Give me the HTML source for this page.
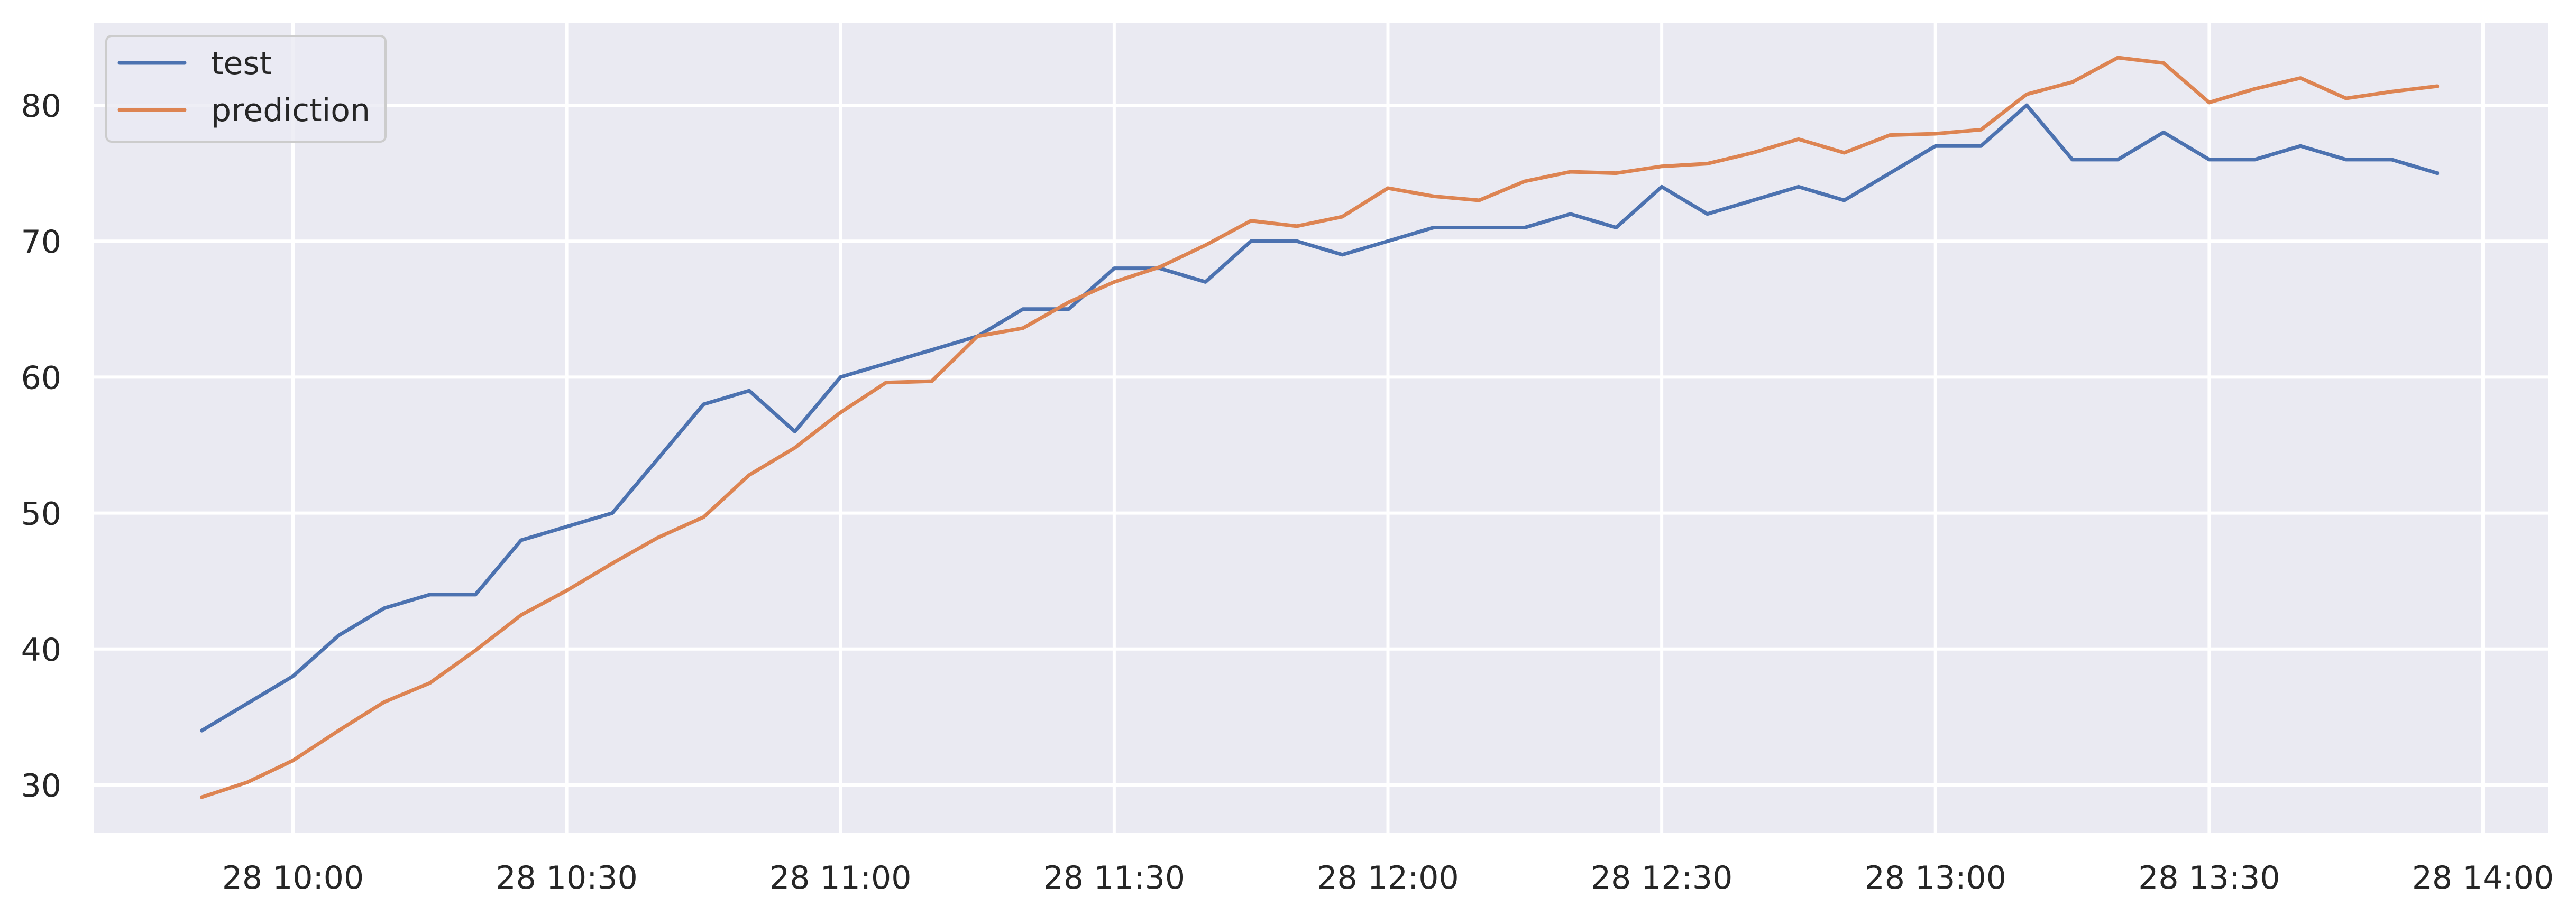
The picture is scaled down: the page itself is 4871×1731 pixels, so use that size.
<!DOCTYPE html>
<html><head><meta charset="utf-8"><style>
html,body{margin:0;padding:0;background:#fff;}
svg{display:block;font-family:"DejaVu Sans","Liberation Sans",sans-serif;}
</style></head><body>
<svg id="chart" width="4871" height="1731" viewBox="0 0 4871 1731">
<rect x="177" y="43" width="4641" height="1532" fill="#eaeaf2"/>
<g id="grid"></g><g id="series"></g><g id="labels"></g>
<g>
<rect x="201" y="68" width="528" height="200" rx="10" fill="#eaeaf2" fill-opacity="0.8" stroke="#cccccc" stroke-width="4"/>
<line x1="226" y1="119" x2="349" y2="119" stroke="#4c72b0" stroke-width="7" stroke-linecap="round"/>
<text x="399" y="140" font-size="60" fill="#262626">test</text>
<line x1="226" y1="208" x2="349" y2="208" stroke="#dd8452" stroke-width="7" stroke-linecap="round"/>
<text x="399" y="229" font-size="60" fill="#262626">prediction</text>
</g>
</svg>
<script>
const times = [];
for (let i = 0; i < 50; i++) times.push(-10 + 5 * i); // minutes from 10:00
const testValues = [34,36,38,41,43,44,44,48,49,50,54,58,59,56,60,61,62,63,65,65,68,68,67,70,70,69,70,71,71,71,72,71,74,72,73,74,73,75,77,77,80,76,76,78,76,76,77,76,76,75];
const predValues = [29.1,30.2,31.8,34.0,36.1,37.5,39.9,42.5,44.3,46.3,48.2,49.7,52.8,54.8,57.4,59.6,59.7,63.0,63.6,65.5,67.0,68.1,69.7,71.5,71.1,71.8,73.9,73.3,73.0,74.4,75.1,75.0,75.5,75.7,76.5,77.5,76.5,77.8,77.9,78.2,80.8,81.7,83.5,83.1,80.2,81.2,82.0,80.5,81.0,81.4];
const xTickMinutes = [0,30,60,90,120,150,180,210,240];
const xTickLabels = ["28 10:00","28 10:30","28 11:00","28 11:30","28 12:00","28 12:30","28 13:00","28 13:30","28 14:00"];
const yTicks = [30,40,50,60,70,80];

const NS = "http://www.w3.org/2000/svg";
function xs(m){ return 554 + (m/240)*(4695-554); }
function ys(v){ return 1485 - (v-30)*(1485-199)/50; }
function mk(tag, attrs, parent){ const e=document.createElementNS(NS,tag); for(const k in attrs) e.setAttribute(k,attrs[k]); parent.appendChild(e); return e; }
const grid=document.getElementById('grid'), series=document.getElementById('series'), labels=document.getElementById('labels');
xTickMinutes.forEach((m,i)=>{
  const l=mk('line',{x1:xs(m),x2:xs(m),y1:43,y2:1575,stroke:'#fff','stroke-width':6},grid);
  
  
  const t=mk('text',{x:xs(m),y:1681,'font-size':60,fill:'#262626','text-anchor':'middle'},labels);
  t.textContent=xTickLabels[i];
  
  
});
yTicks.forEach(v=>{
  const l=mk('line',{x1:177,x2:4818,y1:ys(v),y2:ys(v),stroke:'#fff','stroke-width':6},grid);
  
  
  const t=mk('text',{x:116,y:ys(v)+22,'font-size':60,fill:'#262626','text-anchor':'end'},labels);
  t.textContent=String(v);
  
  
});
function path(vals,color,name){
  const d=vals.map((v,i)=>(i?'L':'M')+xs(times[i]).toFixed(1)+','+ys(v).toFixed(1)).join(' ');
  const p=mk('path',{d:d,fill:'none',stroke:color,'stroke-width':7,'stroke-linecap':'round','stroke-linejoin':'round'},series);
  
  
}
path(testValues,'#4c72b0','test-line');
path(predValues,'#dd8452','prediction-line');
</script>
</body></html>
